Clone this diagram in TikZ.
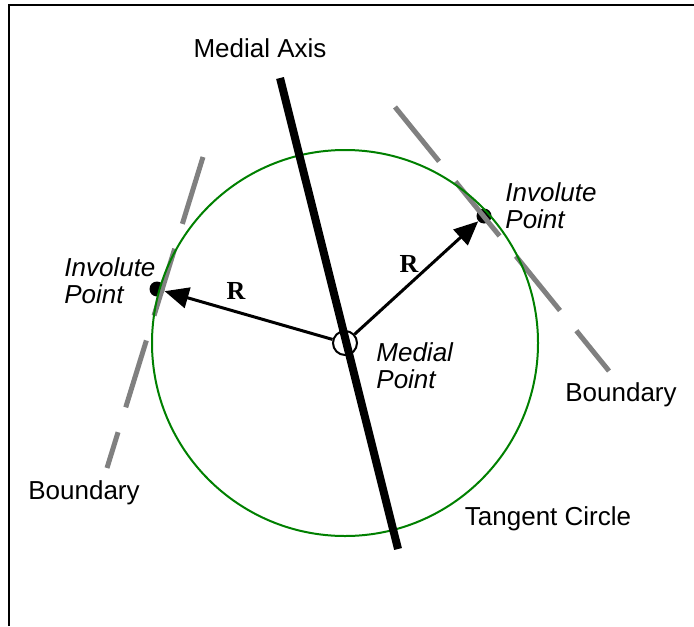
\documentclass[tikz,border=0pt]{standalone}
\usepackage{fontspec}
\setmainfont{Liberation Sans}
\newfontfamily\rmfontR{Liberation Serif}
\usetikzlibrary{arrows.meta}
\definecolor{tgreen}{RGB}{0,128,0}

\begin{document}
\begin{tikzpicture}[x=0.5pt, y=-0.5pt,
		lbl/.style={inner sep=0pt, align=left, font=\fontsize{13}{13.5}\selectfont},
		ital/.style={lbl, font=\fontsize{13}{13.5}\selectfont\itshape},
		rlbl/.style={inner sep=0pt, font=\fontsize{13}{13.5}\selectfont\rmfontR\bfseries},
		dotpt/.style={circle, fill=black, inner sep=0pt, minimum size=7.5pt},
		bound/.style={draw=gray, line width=2.5pt, dash pattern=on 35pt off 13pt},
		radarrow/.style={-{Triangle[length=12pt, width=10.5pt]}, line width=1.5pt}]
			\useasboundingbox (0,0) rectangle (694,626);
			% Frame
			\draw[line width=1pt] (9,626) -- (9,5) -- (694,5);
			% Points
			\coordinate (axistop) at (280,78);
			\coordinate (axisbot) at (398,549);
			\coordinate (lbtop) at (203,157);
			\coordinate (lbbot) at (107,468);
			\coordinate (rbtop) at (395,107);
			\coordinate (rbbot) at (609,371);
			\node[circle, draw, line width=1pt, inner sep=0pt, minimum size=12pt] (mpt) at (345,343) {};
			\node[dotpt] (invleft) at (157,289) {};
			\node[dotpt] (invright) at (484,216) {};
			% Boundaries and circle
			\draw[bound] (lbtop) -- (lbbot);
			\draw[bound] (rbtop) -- (rbbot);
			\draw[tgreen, line width=1pt] (mpt.center) circle[radius=193];
			% Medial axis
			\draw[line width=4pt] (axistop) -- (axisbot);
			% Arrows
			\draw[radarrow] (mpt) -- (invleft);
			\draw[radarrow] (mpt) -- (invright);
			% Labels
			\node[lbl] (axislabel) at (260,48) {Medial Axis};
			\node[ital, anchor=west] (invlefttext) at (64,281) {Involute\\Point};
			\node[ital, anchor=west] (invrighttext) at (505,206) {Involute\\Point};
			\node[ital, anchor=west] (mpttext) at (376,366) {Medial\\Point};
			\node[rlbl] (rleft) at (236,291) {R};
			\node[rlbl] (rright) at (409,264) {R};
			\node[lbl] (bleft) at (84,493) {Boundary};
			\node[lbl] (bright) at (621,395) {Boundary};
			\node[lbl] (circlabel) at (548,519) {Tangent Circle};
		\end{tikzpicture}
\end{document}
